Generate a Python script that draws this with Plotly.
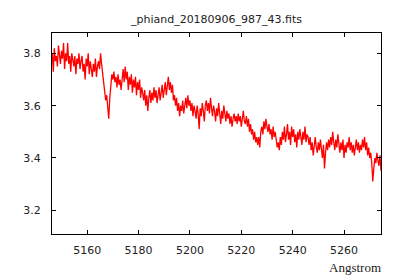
import numpy as np
import plotly.graph_objects as go

title_text = "_phiand_20180906_987_43.fits"
x_label = "Angstrom"

wave_start = 5146.4
wave_step = 0.4

flux = [
    3.80, 3.73, 3.82, 3.77, 3.79, 3.75, 3.83, 3.78, 3.76, 3.81,
    3.78, 3.84, 3.74, 3.80, 3.77, 3.84, 3.76, 3.79, 3.73, 3.80,
    3.77, 3.75, 3.79, 3.72, 3.78, 3.76, 3.80, 3.74, 3.77, 3.79,
    3.73, 3.76, 3.70, 3.78, 3.75, 3.80, 3.72, 3.77, 3.74, 3.71,
    3.76, 3.73, 3.78, 3.71, 3.75, 3.77, 3.74, 3.80, 3.76, 3.72,
    3.69, 3.66, 3.62, 3.64, 3.58, 3.55, 3.63, 3.68, 3.72, 3.70,
    3.73, 3.69, 3.71, 3.67, 3.72, 3.68, 3.70, 3.66, 3.71, 3.74,
    3.69, 3.75, 3.70, 3.73, 3.66, 3.71, 3.68, 3.72, 3.65, 3.70,
    3.67, 3.71, 3.64, 3.69, 3.66, 3.70, 3.63, 3.67, 3.65, 3.62,
    3.66, 3.60, 3.64, 3.58, 3.63, 3.66, 3.61, 3.65, 3.62, 3.67,
    3.63, 3.66, 3.61, 3.64, 3.67, 3.62, 3.65, 3.68, 3.63, 3.66,
    3.69, 3.64, 3.68, 3.71, 3.66, 3.69, 3.65, 3.68, 3.62, 3.64,
    3.60, 3.63, 3.58, 3.61, 3.56, 3.60, 3.58, 3.62, 3.57, 3.61,
    3.63, 3.59, 3.64, 3.60, 3.62, 3.58, 3.61, 3.56, 3.60, 3.58,
    3.55, 3.60, 3.57, 3.51, 3.59, 3.56, 3.61, 3.58, 3.54, 3.60,
    3.62, 3.58, 3.61, 3.57, 3.63, 3.59, 3.56, 3.60, 3.58, 3.54,
    3.59, 3.56, 3.61, 3.57, 3.53, 3.58, 3.55, 3.60, 3.57, 3.54,
    3.58, 3.55, 3.57, 3.53, 3.56, 3.52, 3.55, 3.57, 3.54, 3.56,
    3.53, 3.57, 3.54, 3.56, 3.52, 3.55, 3.58, 3.54, 3.53, 3.56,
    3.52, 3.55, 3.50, 3.53, 3.49, 3.51, 3.47, 3.50, 3.46, 3.48,
    3.45, 3.48, 3.44, 3.50, 3.52, 3.49, 3.54, 3.51, 3.55, 3.52,
    3.50, 3.53, 3.49, 3.51, 3.47, 3.52, 3.48, 3.50, 3.46, 3.44,
    3.46, 3.43, 3.48, 3.45, 3.50, 3.47, 3.52, 3.46, 3.49, 3.53,
    3.47, 3.50, 3.45, 3.52, 3.48, 3.51, 3.46, 3.49, 3.44, 3.50,
    3.47, 3.51, 3.48, 3.45, 3.50, 3.47, 3.52, 3.46, 3.49, 3.48,
    3.45, 3.48, 3.43, 3.46, 3.41, 3.45, 3.48, 3.44, 3.42, 3.46,
    3.43, 3.47, 3.44, 3.40, 3.45, 3.36, 3.42, 3.46, 3.43, 3.47,
    3.44, 3.48, 3.45, 3.50, 3.46, 3.43, 3.47, 3.44, 3.49, 3.45,
    3.42, 3.46, 3.43, 3.47, 3.40, 3.45, 3.42, 3.46, 3.44, 3.48,
    3.43, 3.46, 3.42, 3.45, 3.41, 3.44, 3.47, 3.43, 3.46, 3.42,
    3.45, 3.43, 3.47, 3.44, 3.48, 3.43, 3.46, 3.41, 3.44, 3.40,
    3.42, 3.38, 3.31, 3.36, 3.40, 3.38, 3.42, 3.39, 3.37, 3.41,
    3.35,
]

x_ticks = [5160, 5180, 5200, 5220, 5240, 5260]
y_ticks = [3.2, 3.4, 3.6, 3.8]
x_range = [5146.3, 5274.4]
y_range = [3.109, 3.878]

wave = [round(wave_start + i * wave_step, 2) for i in range(len(flux))]

fig = go.Figure()
fig.add_trace(go.Scatter(x=wave, y=flux, mode="lines",
                         line=dict(color="#ff0000", width=1.3)))

axis_common = dict(showgrid=False, zeroline=False, showline=True,
                   linecolor="black", linewidth=1, mirror="ticks",
                   ticks="inside", ticklen=4, tickcolor="black",
                   tickfont=dict(family="DejaVu Sans", size=11, color="#222"))

fig.update_layout(
    width=400, height=280,
    margin=dict(l=52, r=19, t=33, b=46),
    paper_bgcolor="white", plot_bgcolor="white",
    showlegend=False,
    title=dict(text=title_text, x=216.5 / 400, xanchor="center",
               y=1 - 19 / 280, yanchor="middle",
               font=dict(family="DejaVu Sans", size=11, color="#222")),
    xaxis=dict(range=x_range, tickvals=x_ticks, ticklabelstandoff=6,
               **axis_common),
    yaxis=dict(range=y_range, tickvals=y_ticks, ticklabelstandoff=8,
               **axis_common),
    annotations=[dict(text=x_label, xref="paper", yref="paper",
                      x=1.006, y=-0.168, xanchor="right", yanchor="middle",
                      showarrow=False,
                      font=dict(family="Liberation Serif", size=13, color="#222"))],
)

fig.write_html("out.html")
